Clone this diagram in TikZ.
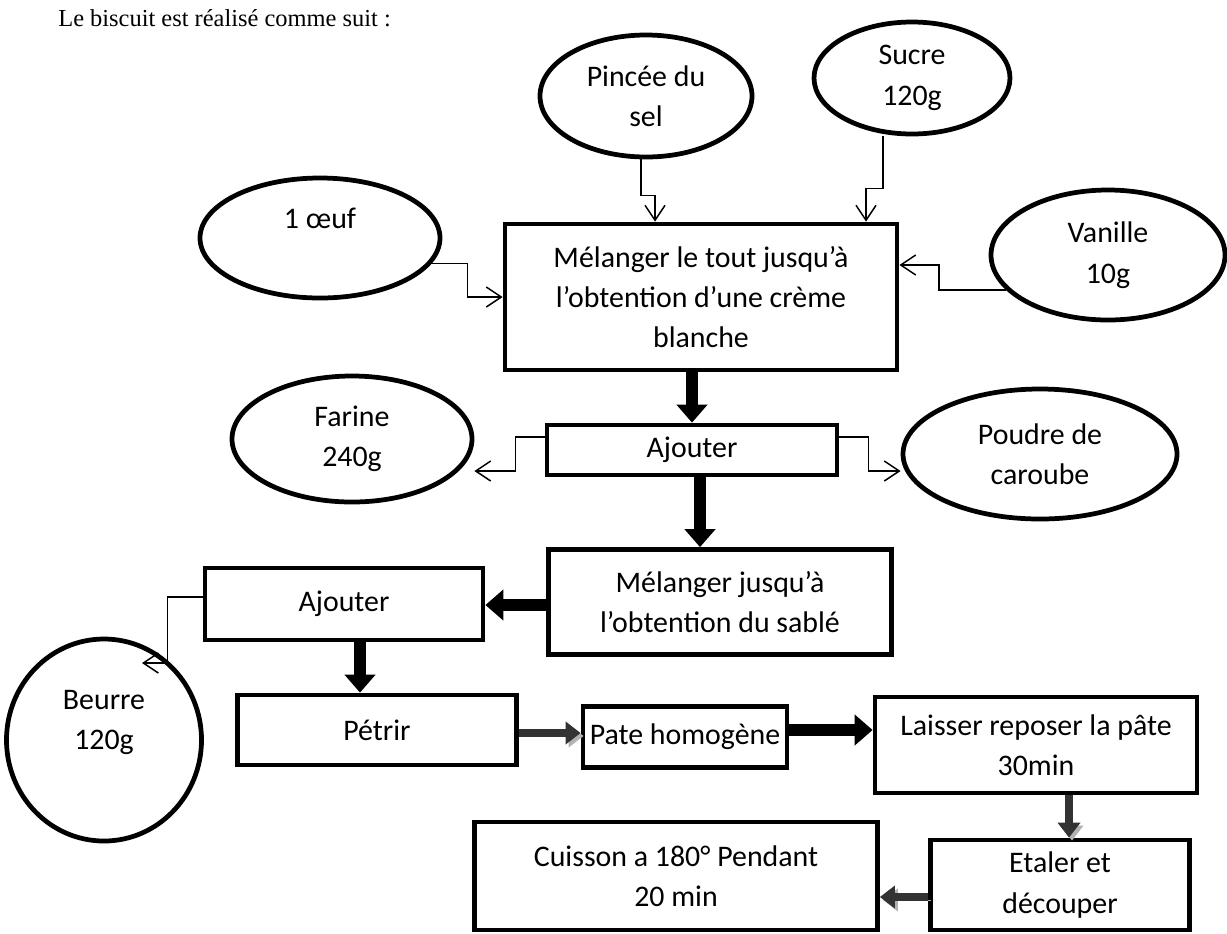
\documentclass[tikz,border=0pt]{standalone}
\usepackage{fontspec}
\setmainfont{Carlito}
\newfontfamily\titlefont{Liberation Serif}
\usetikzlibrary{positioning, arrows.meta, shapes.geometric}

\begin{document}
\begin{tikzpicture}[x=0.2mm, y=-0.2mm,
                  box/.style={draw, line width=0.95mm, inner sep=0pt, align=center,
                              font=\fontsize{17}{23}\selectfont},
                  ing/.style={draw, ellipse, line width=0.95mm, inner sep=0pt, align=center,
                              font=\fontsize{17}{23}\selectfont},
                  lnk/.style={line width=0.3mm, -{Straight Barb[length=3mm, width=4mm]}},
                  barr/.style={line width=2.4mm, -{Triangle[width=6mm, length=3.6mm]}},
                  garr/.style={line width=1.6mm, draw=black!80, -{Triangle[width=4.4mm, length=3mm]},
                               preaction={draw=gray!60, transform canvas={shift={(0.6mm,-0.6mm)}}}},
            ]
            \useasboundingbox (0,0) rectangle (1227,933);

            % ---- title ----
            \node[anchor=west, inner sep=0pt, font=\titlefont\fontsize{13.9}{16}\selectfont]
                  (titre) at (58,18) {Le biscuit est réalisé comme suit :};

            % ---- ingredients (ellipses) ----
            \node[ing, minimum width=42.4mm, minimum height=24.4mm] (sel)  at (646,96)   {Pincée du\\sel};
            \node[ing, minimum width=39.2mm, minimum height=22.4mm] (suc)  at (912,78)   {Sucre\\120g};
            \node[ing, minimum width=48mm,   minimum height=24mm]   (oeuf) at (320,238)  {1 œuf\\~};
            \node[ing, minimum width=46.8mm, minimum height=26mm]   (van)  at (1108,255) {Vanille\\10g};
            \node[ing, minimum width=48mm,   minimum height=25.2mm] (far)  at (352,439)  {Farine\\240g};
            \node[ing, minimum width=54.8mm, minimum height=26mm]   (pou)  at (1040,454) {Poudre de\\caroube};
            \node[ing, minimum width=39mm,   minimum height=40.4mm] (beu)  at (104,740)  {Beurre\\120g\\~};

            % ---- steps (boxes) ----
            \node[box, minimum width=78.4mm, minimum height=29.2mm] (mel1) at (701,297)
                  {Mélanger le tout jusqu’à\\l’obtention d’une crème\\blanche};
            \node[box, minimum width=58mm,   minimum height=10mm]   (aj1)  at (692,450) {Ajouter};
            \node[box, minimum width=68.6mm, minimum height=21mm]   (mel2) at (720,602)
                  {Mélanger jusqu’à\\l’obtention du sablé};
            \node[box, minimum width=55.6mm, minimum height=14.4mm] (aj2)  at (344,604) {Ajouter};
            \node[box, minimum width=55.8mm, minimum height=14mm]   (pet)  at (377,730) {Pétrir};
            \node[box, minimum width=40.8mm, minimum height=12.2mm] (pate) at (685,737) {Pate homogène};
            \node[box, minimum width=64.4mm, minimum height=19.2mm] (lai)  at (1036,745)
                  {Laisser reposer la pâte\\30min};
            \node[box, minimum width=51.8mm, minimum height=18mm]   (eta)  at (1060,885) {Etaler et\\découper};
            \node[box, minimum width=80.6mm, minimum height=21.6mm] (cui)  at (676,876)
                  {Cuisson a 180° Pendant\\20 min};

            % ---- thin connectors ----
            \draw[lnk] ([xshift=-1mm]sel.south) -- ++(0,36) -| ([xshift=-9.2mm]mel1.north);
            \draw[lnk] ([xshift=-5.8mm]suc.south) -- ++(0,52) -| ([xshift=33mm]mel1.north);
            \draw[lnk] (oeuf.-13) -- ++(36,0) |- (mel1.west);
            \draw[lnk] (van.199) -- ++(-67,0) |- ([yshift=6.4mm]mel1.east);
            \draw[lnk] ([yshift=2.6mm]aj1.west) -- ++(-29,0) |- ([yshift=-6.4mm]far.east);
            \draw[lnk] ([yshift=2.6mm]aj1.east) -- ++(29,0) |- ([yshift=-3.4mm]pou.west);
            \coordinate (beutip) at ([xshift=7.6mm, yshift=15.4mm]beu.center);
            \draw[lnk] ([yshift=1.4mm]aj2.west) -- ++(-35,0) |- (beutip);

            % ---- block arrows ----
            \draw[barr] (aj1.north |- mel1.south) -- (aj1.north);
            \draw[barr] ([xshift=1.6mm]aj1.south) -- ([xshift=1.6mm]aj1.south |- mel2.north);
            \draw[barr] ([yshift=-0.6mm]mel2.west) -- ([yshift=-0.6mm]mel2.west -| aj2.east);
            \draw[barr] ([xshift=3.2mm]aj2.south) -- ([xshift=3.2mm]aj2.south |- pet.north);
            \draw[garr] ([yshift=-0.6mm]pet.east) -- ([yshift=-0.6mm]pet.east -| pate.west);
            \draw[barr] ([yshift=1.4mm]pate.east) -- ([yshift=1.4mm]pate.east -| lai.west);
            \draw[garr] ([xshift=6.6mm]lai.south) -- ([xshift=6.6mm]lai.south |- eta.north);
            \draw[garr] ([yshift=-2.4mm]eta.west) -- ([yshift=-2.4mm]eta.west -| cui.east);

      \end{tikzpicture}
\end{document}
